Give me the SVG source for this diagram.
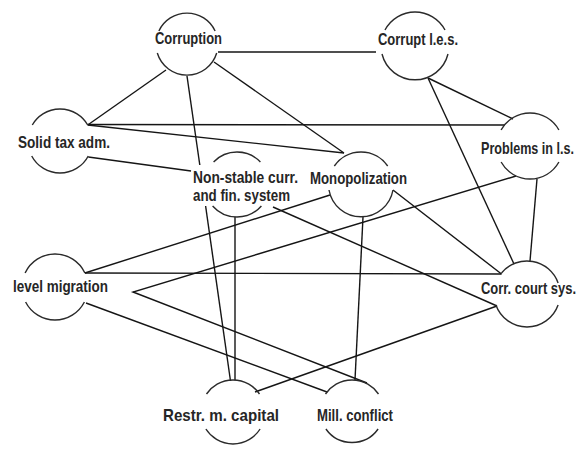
<svg xmlns="http://www.w3.org/2000/svg" width="582" height="450" viewBox="0 0 582 450">
<style>
.c{fill:none;stroke:#2a2a2a;stroke-width:1.4}
.e{fill:none;stroke:#151515;stroke-width:1.4}
.t{font-family:"Liberation Sans",Arial,sans-serif;font-weight:bold;font-size:16px;fill:#262626}
</style>
<rect width="582" height="450" fill="#ffffff"/>
<g id="connectors">
<line class="e" x1="218" y1="52" x2="376" y2="52"/>
<line class="e" x1="166" y1="70" x2="87.7" y2="125"/>
<line class="e" x1="187" y1="76" x2="199.8" y2="165"/>
<line class="e" x1="205.6" y1="206" x2="230.5" y2="381"/>
<line class="e" x1="214" y1="62" x2="344" y2="153"/>
<line class="e" x1="87.7" y1="124.5" x2="504.5" y2="125"/>
<line class="e" x1="87.7" y1="125" x2="344" y2="153"/>
<line class="e" x1="88.3" y1="157" x2="191" y2="171"/>
<line class="e" x1="428" y1="78" x2="513" y2="119"/>
<line class="e" x1="428" y1="78" x2="514" y2="264"/>
<line class="e" x1="537" y1="179" x2="530" y2="261"/>
<polyline class="e" points="516,176 133,292 367,383"/>
<line class="e" x1="330" y1="195" x2="84.9" y2="273"/>
<line class="e" x1="84.9" y1="273" x2="501.5" y2="274"/>
<line class="e" x1="86" y1="303" x2="327" y2="392"/>
<line class="e" x1="235" y1="217" x2="235" y2="380"/>
<line class="e" x1="273" y1="207" x2="497" y2="306"/>
<line class="e" x1="393" y1="190" x2="501.5" y2="274"/>
<line class="e" x1="363" y1="217" x2="355" y2="380"/>
<line class="e" x1="255" y1="392" x2="497" y2="306"/>
</g>
<g id="n-corruption">
<path class="c" d="M158.9,31 A31,31 0 0 1 215.1,31 M216.7,53 A31,31 0 0 1 157.3,53"/>
<text class="t" transform="translate(155,44) scale(0.8,1)" textLength="83.75" lengthAdjust="spacingAndGlyphs">Corruption</text>
</g>
<g id="n-corrupt-les">
<path class="c" d="M385,30 A34,34 0 0 1 445,30 M448,54 A34,34 0 0 1 382,54"/>
<text class="t" transform="translate(378,45) scale(0.8,1)" textLength="100" lengthAdjust="spacingAndGlyphs">Corrupt l.e.s.</text>
</g>
<g id="n-solid-tax">
<path class="c" d="M32.3,125 A32,32 0 0 1 87.7,125 M88.3,156 A32,32 0 0 1 31.7,156"/>
<text class="t" transform="translate(18,148) scale(0.8,1)" textLength="115" lengthAdjust="spacingAndGlyphs">Solid tax adm.</text>
</g>
<g id="n-non-stable">
<path class="c" d="M213.6,162 A32.5,32.5 0 0 1 260.4,162 M261.4,206 A32.5,32.5 0 0 1 212.6,206"/>
<text class="t" transform="translate(193,183) scale(0.8,1)" textLength="131.25" lengthAdjust="spacingAndGlyphs">Non-stable curr.</text>
<text class="t" transform="translate(193,201) scale(0.8,1)" textLength="121.25" lengthAdjust="spacingAndGlyphs">and fin. system</text>
</g>
<g id="n-monopolization">
<path class="c" d="M334.3,166 A32.5,32.5 0 0 1 387.7,166 M393,190 A32.5,32.5 0 0 1 329,190"/>
<text class="t" transform="translate(310,184) scale(0.8,1)" textLength="121.25" lengthAdjust="spacingAndGlyphs">Monopolization</text>
</g>
<g id="n-problems">
<path class="c" d="M501.1,130 A33,33 0 0 1 558.9,130 M558.9,162 A33,33 0 0 1 501.1,162"/>
<text class="t" transform="translate(481,154) scale(0.8,1)" textLength="116.25" lengthAdjust="spacingAndGlyphs">Problems in l.s.</text>
</g>
<g id="n-level-migration">
<path class="c" d="M25.1,273 A33,33 0 0 1 84.9,273 M84.4,302 A33,33 0 0 1 25.6,302"/>
<text class="t" transform="translate(13,292) scale(0.8,1)" textLength="118.75" lengthAdjust="spacingAndGlyphs">level migration</text>
</g>
<g id="n-corr-court">
<path class="c" d="M501.5,273 A33,33 0 0 1 558.1,283 M558.1,305 A33,33 0 0 1 495.9,305"/>
<text class="t" transform="translate(481,294) scale(0.8,1)" textLength="118.75" lengthAdjust="spacingAndGlyphs">Corr. court sys.</text>
</g>
<g id="n-restr-capital">
<path class="c" d="M206.5,394 A32,32 0 0 1 259.5,394 M260.1,429 A32,32 0 0 1 205.9,429"/>
<text class="t" transform="translate(163,421) scale(0.8,1)" textLength="145" lengthAdjust="spacingAndGlyphs">Restr. m. capital</text>
</g>
<g id="n-mill-conflict">
<path class="c" d="M325.5,394 A32,32 0 0 1 378.5,394 M378.1,429 A32,32 0 0 1 325.9,429"/>
<text class="t" transform="translate(317,421) scale(0.8,1)" textLength="95" lengthAdjust="spacingAndGlyphs">Mill. conflict</text>
</g>
</svg>
